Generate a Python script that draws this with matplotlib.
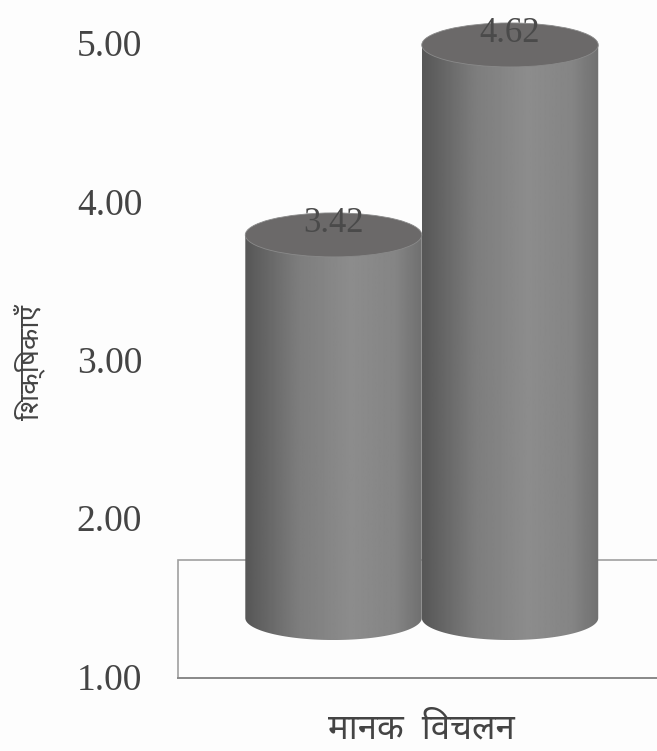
import numpy as np
import matplotlib
matplotlib.use("Agg")
import matplotlib.pyplot as plt
from matplotlib.patches import Ellipse, Polygon

# bar values and axis labels
values = [3.42, 4.62]
positions = [0, 1]
tick_values = [1, 2, 3, 4, 5]
# matplotlib does no Devanagari shaping, so each i-matra is written before its consonant
x_title = "मानक  िवचलन"
y_title = "िशक्िषकाएँ"

# grey levels across a cylinder, left edge to right edge
shade_stops = [0.0, 0.12, 0.3, 0.6, 0.85, 1.0]
shade_greys = [0.34, 0.40, 0.49, 0.55, 0.52, 0.44]

BASE = 1.0
DEPTH = 0.379  # how far the floor centre sits above the front line of the floor
CAP = 0.139    # half height of the cylinder ends
BAR_WIDTH = 1.0
PAPER = "#fdfdfd"

fig = plt.figure(figsize=(6.57, 7.51), dpi=100, facecolor=PAPER)
ax = fig.add_axes([0, 0, 1, 1])
ax.set_xlim(-1.89, 1.833)
ax.set_ylim(0.539, 5.283)
ax.axis("off")

# floor and back wall outline
wall_x = -0.88
wall_top = BASE + 0.745
ax.plot([1.833, wall_x, wall_x, 1.833], [wall_top, wall_top, BASE, BASE],
        color="#a0a0a0", lw=1.2, zorder=1, solid_joinstyle="miter")
ax.plot([wall_x, 1.833], [BASE, BASE], color="#8a8a8a", lw=1.4, zorder=1)

shade = np.interp(np.linspace(0, 1, 200), shade_stops, shade_greys)
t = np.linspace(0, np.pi, 80)


def draw_cylinder(x, value):
    half = BAR_WIDTH / 2
    floor = BASE + DEPTH
    top = value + DEPTH
    # outline of the side: bottom half ellipse, then the flat top
    lower = np.column_stack([x - half * np.cos(t), floor - CAP * np.sin(t)])
    outline = np.vstack([lower, [x + half, top], [x - half, top]])
    patch = Polygon(outline, closed=True, transform=ax.transData, fc="none", ec="none")
    ax.add_patch(patch)
    im = ax.imshow(shade[np.newaxis, :], cmap="gray", vmin=0, vmax=1, aspect="auto",
                   extent=(x - half, x + half, floor - CAP, top), zorder=2)
    im.set_clip_path(patch)
    ax.add_patch(Ellipse((x, top), BAR_WIDTH, 2 * CAP, fc="#6b6969", ec="#8a8a8a",
                         lw=0.6, zorder=3))
    ax.text(x, top + 0.07, f"{value:.2f}", ha="center", va="center", color="#4a4a4a",
            family="Liberation Serif", fontsize=25, zorder=4)


for pos, val in zip(positions, values):
    draw_cylinder(pos, val)

for tick in tick_values:
    ax.text(-1.455, tick - 0.015, f"{tick:.2f}", ha="left", va="center", color="#444444",
            family="Liberation Serif", fontsize=27)

ax.text(0.5, 0.615, x_title, ha="center", va="baseline", color="#444444",
        family=["Noto Sans", "DejaVu Sans"], fontsize=25, fontweight="light")
ax.text(-1.725, 2.99, y_title, ha="center", va="center", rotation=90, color="#444444",
        family=["Noto Sans", "DejaVu Sans"], fontsize=20, fontweight="light")

fig.savefig("out.png", dpi=100, facecolor=PAPER)
